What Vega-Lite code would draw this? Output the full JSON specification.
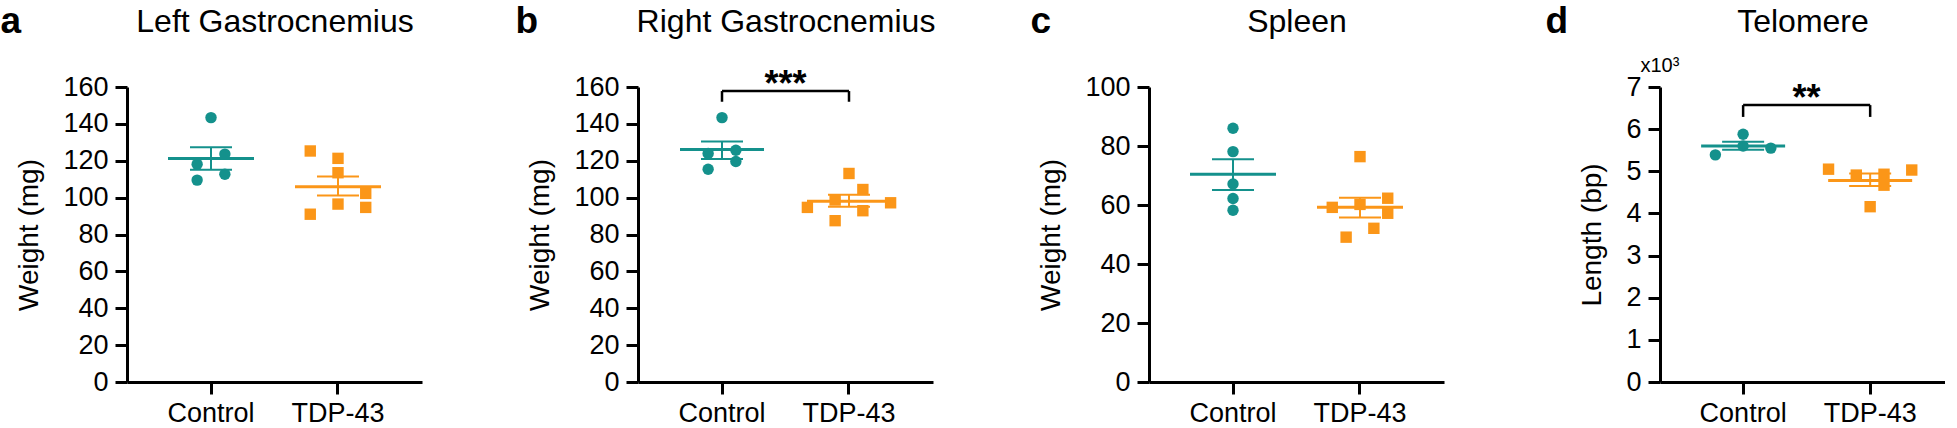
{
  "$schema": "https://vega.github.io/schema/vega-lite/v6.json",
  "padding": {"left": 0, "top": 2, "right": 0, "bottom": 0},
  "spacing": 216,
  "bounds": "flush",
  "config": {
    "font": "Liberation Sans",
    "view": {"stroke": null},
    "axis": {"domainColor": "#000000", "domainWidth": 3, "tickColor": "#000000", "tickWidth": 3, "tickSize": 12, "labelFontSize": 27, "labelColor": "#000000", "titleFontSize": 28, "titleFontWeight": "normal", "titleColor": "#000000", "grid": false}
  },
  "datasets": {
    "pts": [
      {"panel": "a", "group": "Control", "lane": 0, "value": 143.4},
      {"panel": "a", "group": "Control", "lane": 1, "value": 123.6},
      {"panel": "a", "group": "Control", "lane": -1, "value": 118.1},
      {"panel": "a", "group": "Control", "lane": 1, "value": 112.7},
      {"panel": "a", "group": "Control", "lane": -1, "value": 109.5},
      {"panel": "a", "group": "TDP-43", "lane": -2, "value": 125.3},
      {"panel": "a", "group": "TDP-43", "lane": 0, "value": 121.3},
      {"panel": "a", "group": "TDP-43", "lane": 0, "value": 113.5},
      {"panel": "a", "group": "TDP-43", "lane": 2, "value": 102.3},
      {"panel": "a", "group": "TDP-43", "lane": 0, "value": 96.5},
      {"panel": "a", "group": "TDP-43", "lane": 2, "value": 94.7},
      {"panel": "a", "group": "TDP-43", "lane": -2, "value": 91.0},
      {"panel": "b", "group": "Control", "lane": 0, "value": 143.4},
      {"panel": "b", "group": "Control", "lane": 1, "value": 125.7},
      {"panel": "b", "group": "Control", "lane": -1, "value": 123.9},
      {"panel": "b", "group": "Control", "lane": 1, "value": 119.6},
      {"panel": "b", "group": "Control", "lane": -1, "value": 115.4},
      {"panel": "b", "group": "TDP-43", "lane": 0, "value": 113.1},
      {"panel": "b", "group": "TDP-43", "lane": 1, "value": 104.4},
      {"panel": "b", "group": "TDP-43", "lane": -1, "value": 98.7},
      {"panel": "b", "group": "TDP-43", "lane": -3, "value": 94.7},
      {"panel": "b", "group": "TDP-43", "lane": 3, "value": 97.2},
      {"panel": "b", "group": "TDP-43", "lane": 1, "value": 92.9},
      {"panel": "b", "group": "TDP-43", "lane": -1, "value": 87.5},
      {"panel": "c", "group": "Control", "lane": 0, "value": 86.0},
      {"panel": "c", "group": "Control", "lane": 0, "value": 78.1},
      {"panel": "c", "group": "Control", "lane": 0, "value": 67.1},
      {"panel": "c", "group": "Control", "lane": 0, "value": 62.2},
      {"panel": "c", "group": "Control", "lane": 0, "value": 58.2},
      {"panel": "c", "group": "TDP-43", "lane": 0, "value": 76.4},
      {"panel": "c", "group": "TDP-43", "lane": 2, "value": 62.3},
      {"panel": "c", "group": "TDP-43", "lane": -2, "value": 59.2},
      {"panel": "c", "group": "TDP-43", "lane": 0, "value": 60.2},
      {"panel": "c", "group": "TDP-43", "lane": 2, "value": 57.2},
      {"panel": "c", "group": "TDP-43", "lane": 1, "value": 52.1},
      {"panel": "c", "group": "TDP-43", "lane": -1, "value": 49.1},
      {"panel": "d", "group": "Control", "lane": 0, "value": 5.88},
      {"panel": "d", "group": "Control", "lane": 0, "value": 5.60},
      {"panel": "d", "group": "Control", "lane": 2, "value": 5.55},
      {"panel": "d", "group": "Control", "lane": -2, "value": 5.39},
      {"panel": "d", "group": "TDP-43", "lane": -3, "value": 5.05},
      {"panel": "d", "group": "TDP-43", "lane": -1, "value": 4.91},
      {"panel": "d", "group": "TDP-43", "lane": 1, "value": 4.93},
      {"panel": "d", "group": "TDP-43", "lane": 1, "value": 4.67},
      {"panel": "d", "group": "TDP-43", "lane": 3, "value": 5.03},
      {"panel": "d", "group": "TDP-43", "lane": 0, "value": 4.16}
    ],
    "sum": [
      {"panel": "a", "group": "Control", "mean": 121.2, "lo": 115.1, "hi": 127.3},
      {"panel": "a", "group": "TDP-43", "mean": 105.9, "lo": 101.1, "hi": 111.4},
      {"panel": "b", "group": "Control", "mean": 126.1, "lo": 121.0, "hi": 130.4},
      {"panel": "b", "group": "TDP-43", "mean": 98.1, "lo": 95.1, "hi": 101.5},
      {"panel": "c", "group": "Control", "mean": 70.4, "lo": 65.1, "hi": 75.5},
      {"panel": "c", "group": "TDP-43", "mean": 59.2, "lo": 55.8, "hi": 62.5},
      {"panel": "d", "group": "Control", "mean": 5.60, "lo": 5.51, "hi": 5.70},
      {"panel": "d", "group": "TDP-43", "mean": 4.78, "lo": 4.65, "hi": 4.95}
    ],
    "br": [
      {"panel": "b", "x1": "Control", "x2": "TDP-43", "top": 157.8, "label": "***"},
      {"panel": "d", "x1": "Control", "x2": "TDP-43", "top": 6.57, "label": "**"}
    ],
    "legs": [
      {"panel": "b", "group": "Control", "top": 157.8, "bot": 152.0},
      {"panel": "b", "group": "TDP-43", "top": 157.8, "bot": 152.0},
      {"panel": "d", "group": "Control", "top": 6.57, "bot": 6.29},
      {"panel": "d", "group": "TDP-43", "top": 6.57, "bot": 6.29}
    ]
  },
  "hconcat": [
    {
      "width": 295, "height": 295,
      "resolve": {"axis": {"x": "independent", "y": "independent"}},
      "layer": [
        {
          "data": {"name": "pts"},
          "transform": [{"filter": "datum.panel === 'a'"}],
          "mark": {"type": "point", "filled": true, "opacity": 1, "size": 130},
          "encoding": {
            "x": {"field": "group", "type": "nominal", "scale": {"type": "band", "domain": ["Control", "TDP-43"], "paddingInner": 0.3, "paddingOuter": 0.3115}, "axis": {"title": null, "orient": "bottom", "labelAngle": 0, "labelPadding": 6}},
            "xOffset": {"field": "lane", "type": "ordinal", "scale": {"domain": [-3, -2, -1, 0, 1, 2, 3], "paddingInner": 0, "paddingOuter": 0.205}},
            "y": {"field": "value", "type": "quantitative", "scale": {"domain": [0, 160], "nice": false}, "axis": {"title": "Weight (mg)", "values": [0, 20, 40, 60, 80, 100, 120, 140, 160], "labelPadding": 7, "titlePadding": 19}},
            "color": {"field": "group", "type": "nominal", "scale": {"domain": ["Control", "TDP-43"], "range": ["#14918c", "#fb9618"]}, "legend": null},
            "shape": {"field": "group", "type": "nominal", "scale": {"domain": ["Control", "TDP-43"], "range": ["circle", "square"]}, "legend": null}
          }
        },
        {
          "data": {"name": "sum"},
          "transform": [{"filter": "datum.panel === 'a'"}],
          "mark": {"type": "tick", "size": 86, "thickness": 3, "opacity": 1},
          "encoding": {
            "x": {"field": "group", "type": "nominal", "axis": {"orient": "top", "title": "Left Gastrocnemius", "domain": false, "ticks": false, "labels": false, "titleX": 147.5, "titleY": -56, "titleAlign": "center", "titleBaseline": "alphabetic", "titleFontSize": 32}},
            "y": {"field": "mean", "type": "quantitative", "axis": null},
            "color": {"field": "group", "type": "nominal", "legend": null}
          }
        },
        {
          "data": {"name": "sum"},
          "transform": [{"filter": "datum.panel === 'a'"}],
          "mark": {"type": "tick", "size": 42, "thickness": 2, "opacity": 1},
          "encoding": {
            "x": {"field": "group", "type": "nominal", "axis": {"orient": "top", "title": "a", "domain": false, "ticks": false, "labels": false, "titleX": -127, "titleY": -55, "titleAlign": "left", "titleBaseline": "alphabetic", "titleFontSize": 37, "titleFontWeight": "bold"}},
            "y": {"field": "hi", "type": "quantitative", "axis": null},
            "color": {"field": "group", "type": "nominal", "legend": null}
          }
        },
        {
          "data": {"name": "sum"},
          "transform": [{"filter": "datum.panel === 'a'"}],
          "mark": {"type": "tick", "size": 42, "thickness": 2, "opacity": 1},
          "encoding": {
            "x": {"field": "group", "type": "nominal", "axis": null},
            "y": {"field": "lo", "type": "quantitative", "axis": null},
            "color": {"field": "group", "type": "nominal", "legend": null}
          }
        },
        {
          "data": {"name": "sum"},
          "transform": [{"filter": "datum.panel === 'a'"}],
          "mark": {"type": "rule", "strokeWidth": 2},
          "encoding": {
            "x": {"field": "group", "type": "nominal", "axis": null},
            "y": {"field": "lo", "type": "quantitative", "axis": null},
            "y2": {"field": "hi"},
            "color": {"field": "group", "type": "nominal", "legend": null}
          }
        }
      ]
    },
    {
      "width": 295, "height": 295,
      "resolve": {"axis": {"x": "independent", "y": "independent"}},
      "layer": [
        {
          "data": {"name": "pts"},
          "transform": [{"filter": "datum.panel === 'b'"}],
          "mark": {"type": "point", "filled": true, "opacity": 1, "size": 130},
          "encoding": {
            "x": {"field": "group", "type": "nominal", "scale": {"type": "band", "domain": ["Control", "TDP-43"], "paddingInner": 0.3, "paddingOuter": 0.3115}, "axis": {"title": null, "orient": "bottom", "labelAngle": 0, "labelPadding": 6}},
            "xOffset": {"field": "lane", "type": "ordinal", "scale": {"domain": [-3, -2, -1, 0, 1, 2, 3], "paddingInner": 0, "paddingOuter": 0.205}},
            "y": {"field": "value", "type": "quantitative", "scale": {"domain": [0, 160], "nice": false}, "axis": {"title": "Weight (mg)", "values": [0, 20, 40, 60, 80, 100, 120, 140, 160], "labelPadding": 7, "titlePadding": 19}},
            "color": {"field": "group", "type": "nominal", "legend": null},
            "shape": {"field": "group", "type": "nominal", "scale": {"domain": ["Control", "TDP-43"], "range": ["circle", "square"]}, "legend": null}
          }
        },
        {
          "data": {"name": "sum"},
          "transform": [{"filter": "datum.panel === 'b'"}],
          "mark": {"type": "tick", "size": 84, "thickness": 3, "opacity": 1},
          "encoding": {
            "x": {"field": "group", "type": "nominal", "axis": {"orient": "top", "title": "Right Gastrocnemius", "domain": false, "ticks": false, "labels": false, "titleX": 147.5, "titleY": -56, "titleAlign": "center", "titleBaseline": "alphabetic", "titleFontSize": 32}},
            "y": {"field": "mean", "type": "quantitative", "axis": null},
            "color": {"field": "group", "type": "nominal", "legend": null}
          }
        },
        {
          "data": {"name": "sum"},
          "transform": [{"filter": "datum.panel === 'b'"}],
          "mark": {"type": "tick", "size": 42, "thickness": 2, "opacity": 1},
          "encoding": {
            "x": {"field": "group", "type": "nominal", "axis": {"orient": "top", "title": "b", "domain": false, "ticks": false, "labels": false, "titleX": -123, "titleY": -55, "titleAlign": "left", "titleBaseline": "alphabetic", "titleFontSize": 37, "titleFontWeight": "bold"}},
            "y": {"field": "hi", "type": "quantitative", "axis": null},
            "color": {"field": "group", "type": "nominal", "legend": null}
          }
        },
        {
          "data": {"name": "sum"},
          "transform": [{"filter": "datum.panel === 'b'"}],
          "mark": {"type": "tick", "size": 42, "thickness": 2, "opacity": 1},
          "encoding": {
            "x": {"field": "group", "type": "nominal", "axis": null},
            "y": {"field": "lo", "type": "quantitative", "axis": null},
            "color": {"field": "group", "type": "nominal", "legend": null}
          }
        },
        {
          "data": {"name": "sum"},
          "transform": [{"filter": "datum.panel === 'b'"}],
          "mark": {"type": "rule", "strokeWidth": 2},
          "encoding": {
            "x": {"field": "group", "type": "nominal", "axis": null},
            "y": {"field": "lo", "type": "quantitative", "axis": null},
            "y2": {"field": "hi"},
            "color": {"field": "group", "type": "nominal", "legend": null}
          }
        },
        {
          "data": {"name": "br"},
          "transform": [{"filter": "datum.panel === 'b'"}],
          "mark": {"type": "rule", "strokeWidth": 2.5, "color": "#000000"},
          "encoding": {
            "x": {"field": "x1", "type": "nominal", "axis": null},
            "x2": {"field": "x2"},
            "y": {"field": "top", "type": "quantitative", "axis": null}
          }
        },
        {
          "data": {"name": "legs"},
          "transform": [{"filter": "datum.panel === 'b'"}],
          "mark": {"type": "rule", "strokeWidth": 2.5, "color": "#000000"},
          "encoding": {
            "x": {"field": "group", "type": "nominal", "axis": null},
            "y": {"field": "top", "type": "quantitative", "axis": null},
            "y2": {"field": "bot"}
          }
        },
        {
          "data": {"name": "br"},
          "transform": [{"filter": "datum.panel === 'b'"}],
          "mark": {"type": "text", "fontSize": 36, "fontWeight": "bold", "align": "center", "baseline": "alphabetic", "dx": 63.5, "dy": 5, "color": "#000000"},
          "encoding": {
            "x": {"field": "x1", "type": "nominal", "axis": null},
            "y": {"field": "top", "type": "quantitative", "axis": null},
            "text": {"field": "label"}
          }
        }
      ]
    },
    {
      "width": 295, "height": 295,
      "resolve": {"axis": {"x": "independent", "y": "independent"}},
      "layer": [
        {
          "data": {"name": "pts"},
          "transform": [{"filter": "datum.panel === 'c'"}],
          "mark": {"type": "point", "filled": true, "opacity": 1, "size": 130},
          "encoding": {
            "x": {"field": "group", "type": "nominal", "scale": {"type": "band", "domain": ["Control", "TDP-43"], "paddingInner": 0.3, "paddingOuter": 0.3115}, "axis": {"title": null, "orient": "bottom", "labelAngle": 0, "labelPadding": 6}},
            "xOffset": {"field": "lane", "type": "ordinal", "scale": {"domain": [-3, -2, -1, 0, 1, 2, 3], "paddingInner": 0, "paddingOuter": 0.205}},
            "y": {"field": "value", "type": "quantitative", "scale": {"domain": [0, 100], "nice": false}, "axis": {"title": "Weight (mg)", "values": [0, 20, 40, 60, 80, 100], "labelPadding": 7, "titlePadding": 19}},
            "color": {"field": "group", "type": "nominal", "legend": null},
            "shape": {"field": "group", "type": "nominal", "scale": {"domain": ["Control", "TDP-43"], "range": ["circle", "square"]}, "legend": null}
          }
        },
        {
          "data": {"name": "sum"},
          "transform": [{"filter": "datum.panel === 'c'"}],
          "mark": {"type": "tick", "size": 86, "thickness": 3, "opacity": 1},
          "encoding": {
            "x": {"field": "group", "type": "nominal", "axis": {"orient": "top", "title": "Spleen", "domain": false, "ticks": false, "labels": false, "titleX": 147.5, "titleY": -56, "titleAlign": "center", "titleBaseline": "alphabetic", "titleFontSize": 32}},
            "y": {"field": "mean", "type": "quantitative", "axis": null},
            "color": {"field": "group", "type": "nominal", "legend": null}
          }
        },
        {
          "data": {"name": "sum"},
          "transform": [{"filter": "datum.panel === 'c'"}],
          "mark": {"type": "tick", "size": 42, "thickness": 2, "opacity": 1},
          "encoding": {
            "x": {"field": "group", "type": "nominal", "axis": {"orient": "top", "title": "c", "domain": false, "ticks": false, "labels": false, "titleX": -119, "titleY": -55, "titleAlign": "left", "titleBaseline": "alphabetic", "titleFontSize": 37, "titleFontWeight": "bold"}},
            "y": {"field": "hi", "type": "quantitative", "axis": null},
            "color": {"field": "group", "type": "nominal", "legend": null}
          }
        },
        {
          "data": {"name": "sum"},
          "transform": [{"filter": "datum.panel === 'c'"}],
          "mark": {"type": "tick", "size": 42, "thickness": 2, "opacity": 1},
          "encoding": {
            "x": {"field": "group", "type": "nominal", "axis": null},
            "y": {"field": "lo", "type": "quantitative", "axis": null},
            "color": {"field": "group", "type": "nominal", "legend": null}
          }
        },
        {
          "data": {"name": "sum"},
          "transform": [{"filter": "datum.panel === 'c'"}],
          "mark": {"type": "rule", "strokeWidth": 2},
          "encoding": {
            "x": {"field": "group", "type": "nominal", "axis": null},
            "y": {"field": "lo", "type": "quantitative", "axis": null},
            "y2": {"field": "hi"},
            "color": {"field": "group", "type": "nominal", "legend": null}
          }
        }
      ]
    },
    {
      "width": 285, "height": 295,
      "resolve": {"axis": {"x": "independent", "y": "independent"}},
      "layer": [
        {
          "data": {"name": "pts"},
          "transform": [{"filter": "datum.panel === 'd'"}],
          "mark": {"type": "point", "filled": true, "opacity": 1, "size": 130},
          "encoding": {
            "x": {"field": "group", "type": "nominal", "scale": {"type": "band", "domain": ["Control", "TDP-43"], "paddingInner": 0.3, "paddingOuter": 0.2717, "align": 0.56}, "axis": {"title": null, "orient": "bottom", "labelAngle": 0, "labelPadding": 6}},
            "xOffset": {"field": "lane", "type": "ordinal", "scale": {"domain": [-3, -2, -1, 0, 1, 2, 3], "paddingInner": 0, "paddingOuter": 0.205}},
            "y": {"field": "value", "type": "quantitative", "scale": {"domain": [0, 7], "nice": false}, "axis": {"title": "Length (bp)", "values": [0, 1, 2, 3, 4, 5, 6, 7], "labelPadding": 7, "titlePadding": 19}},
            "color": {"field": "group", "type": "nominal", "legend": null},
            "shape": {"field": "group", "type": "nominal", "scale": {"domain": ["Control", "TDP-43"], "range": ["circle", "square"]}, "legend": null}
          }
        },
        {
          "data": {"name": "sum"},
          "transform": [{"filter": "datum.panel === 'd'"}],
          "mark": {"type": "tick", "size": 84, "thickness": 3, "opacity": 1},
          "encoding": {
            "x": {"field": "group", "type": "nominal", "axis": {"orient": "top", "title": "Telomere", "domain": false, "ticks": false, "labels": false, "titleX": 142.5, "titleY": -56, "titleAlign": "center", "titleBaseline": "alphabetic", "titleFontSize": 32}},
            "y": {"field": "mean", "type": "quantitative", "axis": null},
            "color": {"field": "group", "type": "nominal", "legend": null}
          }
        },
        {
          "data": {"name": "sum"},
          "transform": [{"filter": "datum.panel === 'd'"}],
          "mark": {"type": "tick", "size": 42, "thickness": 2, "opacity": 1},
          "encoding": {
            "x": {"field": "group", "type": "nominal", "axis": {"orient": "top", "title": "d", "domain": false, "ticks": false, "labels": false, "titleX": -115, "titleY": -55, "titleAlign": "left", "titleBaseline": "alphabetic", "titleFontSize": 37, "titleFontWeight": "bold"}},
            "y": {"field": "hi", "type": "quantitative", "axis": null},
            "color": {"field": "group", "type": "nominal", "legend": null}
          }
        },
        {
          "data": {"name": "sum"},
          "transform": [{"filter": "datum.panel === 'd'"}],
          "mark": {"type": "tick", "size": 42, "thickness": 2, "opacity": 1},
          "encoding": {
            "x": {"field": "group", "type": "nominal", "axis": null},
            "y": {"field": "lo", "type": "quantitative", "axis": {"orient": "left", "title": "x10³", "domain": false, "ticks": false, "labels": false, "titleAngle": 0, "titleX": -20, "titleY": -16, "titleAlign": "left", "titleBaseline": "alphabetic", "titleFontSize": 20}},
            "color": {"field": "group", "type": "nominal", "legend": null}
          }
        },
        {
          "data": {"name": "sum"},
          "transform": [{"filter": "datum.panel === 'd'"}],
          "mark": {"type": "rule", "strokeWidth": 2},
          "encoding": {
            "x": {"field": "group", "type": "nominal", "axis": null},
            "y": {"field": "lo", "type": "quantitative", "axis": null},
            "y2": {"field": "hi"},
            "color": {"field": "group", "type": "nominal", "legend": null}
          }
        },
        {
          "data": {"name": "br"},
          "transform": [{"filter": "datum.panel === 'd'"}],
          "mark": {"type": "rule", "strokeWidth": 2.5, "color": "#000000"},
          "encoding": {
            "x": {"field": "x1", "type": "nominal", "axis": null},
            "x2": {"field": "x2"},
            "y": {"field": "top", "type": "quantitative", "axis": null}
          }
        },
        {
          "data": {"name": "legs"},
          "transform": [{"filter": "datum.panel === 'd'"}],
          "mark": {"type": "rule", "strokeWidth": 2.5, "color": "#000000"},
          "encoding": {
            "x": {"field": "group", "type": "nominal", "axis": null},
            "y": {"field": "top", "type": "quantitative", "axis": null},
            "y2": {"field": "bot"}
          }
        },
        {
          "data": {"name": "br"},
          "transform": [{"filter": "datum.panel === 'd'"}],
          "mark": {"type": "text", "fontSize": 36, "fontWeight": "bold", "align": "center", "baseline": "alphabetic", "dx": 63.5, "dy": 5, "color": "#000000"},
          "encoding": {
            "x": {"field": "x1", "type": "nominal", "axis": null},
            "y": {"field": "top", "type": "quantitative", "axis": null},
            "text": {"field": "label"}
          }
        }
      ]
    }
  ]
}
